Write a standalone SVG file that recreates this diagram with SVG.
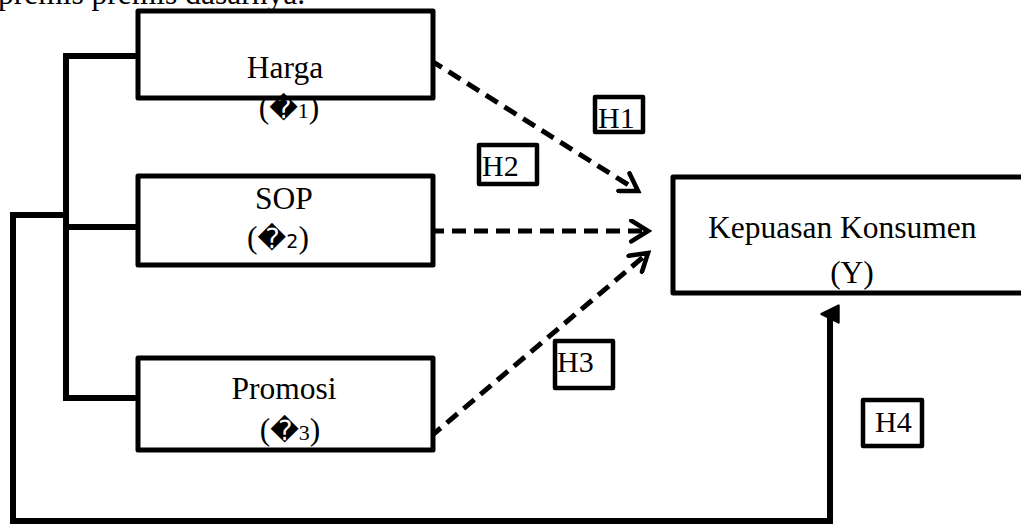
<svg xmlns="http://www.w3.org/2000/svg" width="1021" height="526" viewBox="0 0 1021 526">
<defs>
<style>
.box{fill:#fff;stroke:#000;stroke-width:5;stroke-linejoin:round}
.lbl{fill:#fff;stroke:#000;stroke-width:4.5;stroke-linejoin:round}
.t{font-family:"Liberation Serif","Times New Roman",serif;font-size:31.5px;fill:#000}
.h{font-family:"Liberation Serif","Times New Roman",serif;font-size:30px;fill:#000}
.rc{font-family:"DejaVu Sans",sans-serif;font-size:28px}
.solid{fill:none;stroke:#000;stroke-width:6;stroke-linejoin:miter}
.dash{fill:none;stroke:#000;stroke-width:5;stroke-dasharray:14 8}
</style>
<marker id="chev" viewBox="0 0 12 12" refX="10" refY="6" markerWidth="5" markerHeight="5" orient="auto" markerUnits="strokeWidth">
<path d="M2,1 L10,6 L2,11" fill="none" stroke="#000" stroke-width="2.2" stroke-linecap="round"/>
</marker>
<marker id="tri" viewBox="0 0 10 10" refX="5" refY="5" markerWidth="3.6" markerHeight="3.6" orient="auto" markerUnits="strokeWidth">
<path d="M1,9 L5,1 L9,9 Z" fill="#000" stroke="#000" stroke-linejoin="round"/>
</marker>
</defs>
<rect width="1021" height="526" fill="#fff"/>
<text class="t" x="-2" y="4" font-size="31">premis premis dasarnya.</text>

<g id="connectors">
<path class="solid" d="M138,56 H66 V398 H138"/>
<path class="solid" d="M66,227 H138"/>
<path class="solid" d="M66,215 H13 V521 H830 V314" marker-end="url(#tri)"/>
<path class="dash" d="M430,60 L638,191" marker-end="url(#chev)"/>
<path class="dash" d="M430,231 L648,231" marker-end="url(#chev)"/>
<path class="dash" d="M430,437 L648,253" marker-end="url(#chev)"/>
</g>

<g id="harga">
<rect class="box" x="138" y="11" width="295" height="87"/>
<text class="t" x="285" y="78" text-anchor="middle">Harga</text>
<text class="t" x="289" y="118" text-anchor="middle">(<tspan class="rc">�</tspan><tspan font-size="22">1</tspan>)</text>
</g>

<g id="sop">
<rect class="box" x="138" y="176" width="295" height="89"/>
<text class="t" x="284" y="209" text-anchor="middle">SOP</text>
<text class="t" x="278" y="248" text-anchor="middle">(<tspan class="rc">�</tspan><tspan font-size="19" font-family="DejaVu Sans, sans-serif">2</tspan>)</text>
</g>

<g id="promosi">
<rect class="box" x="138" y="358" width="295" height="92"/>
<text class="t" x="284" y="399" text-anchor="middle">Promosi</text>
<text class="t" x="290" y="440" text-anchor="middle">(<tspan class="rc">�</tspan><tspan font-size="22">3</tspan>)</text>
</g>

<g id="kepuasan">
<rect class="box" x="673" y="177" width="360" height="116"/>
<text class="t" x="708" y="238">Kepuasan Konsumen</text>
<text class="t" x="852" y="283" text-anchor="middle">(Y)</text>
</g>

<g id="h1">
<rect class="lbl" x="595" y="97" width="48" height="35"/>
<text class="h" x="598" y="128">H1</text>
</g>
<g id="h2">
<rect class="lbl" x="479" y="145" width="58" height="39"/>
<text class="h" x="482" y="176">H2</text>
</g>
<g id="h3">
<rect class="lbl" x="555" y="341" width="58" height="47"/>
<text class="h" x="557" y="372">H3</text>
</g>
<g id="h4">
<rect class="lbl" x="863" y="400" width="59" height="46"/>
<text class="h" x="875" y="432">H4</text>
</g>
</svg>
